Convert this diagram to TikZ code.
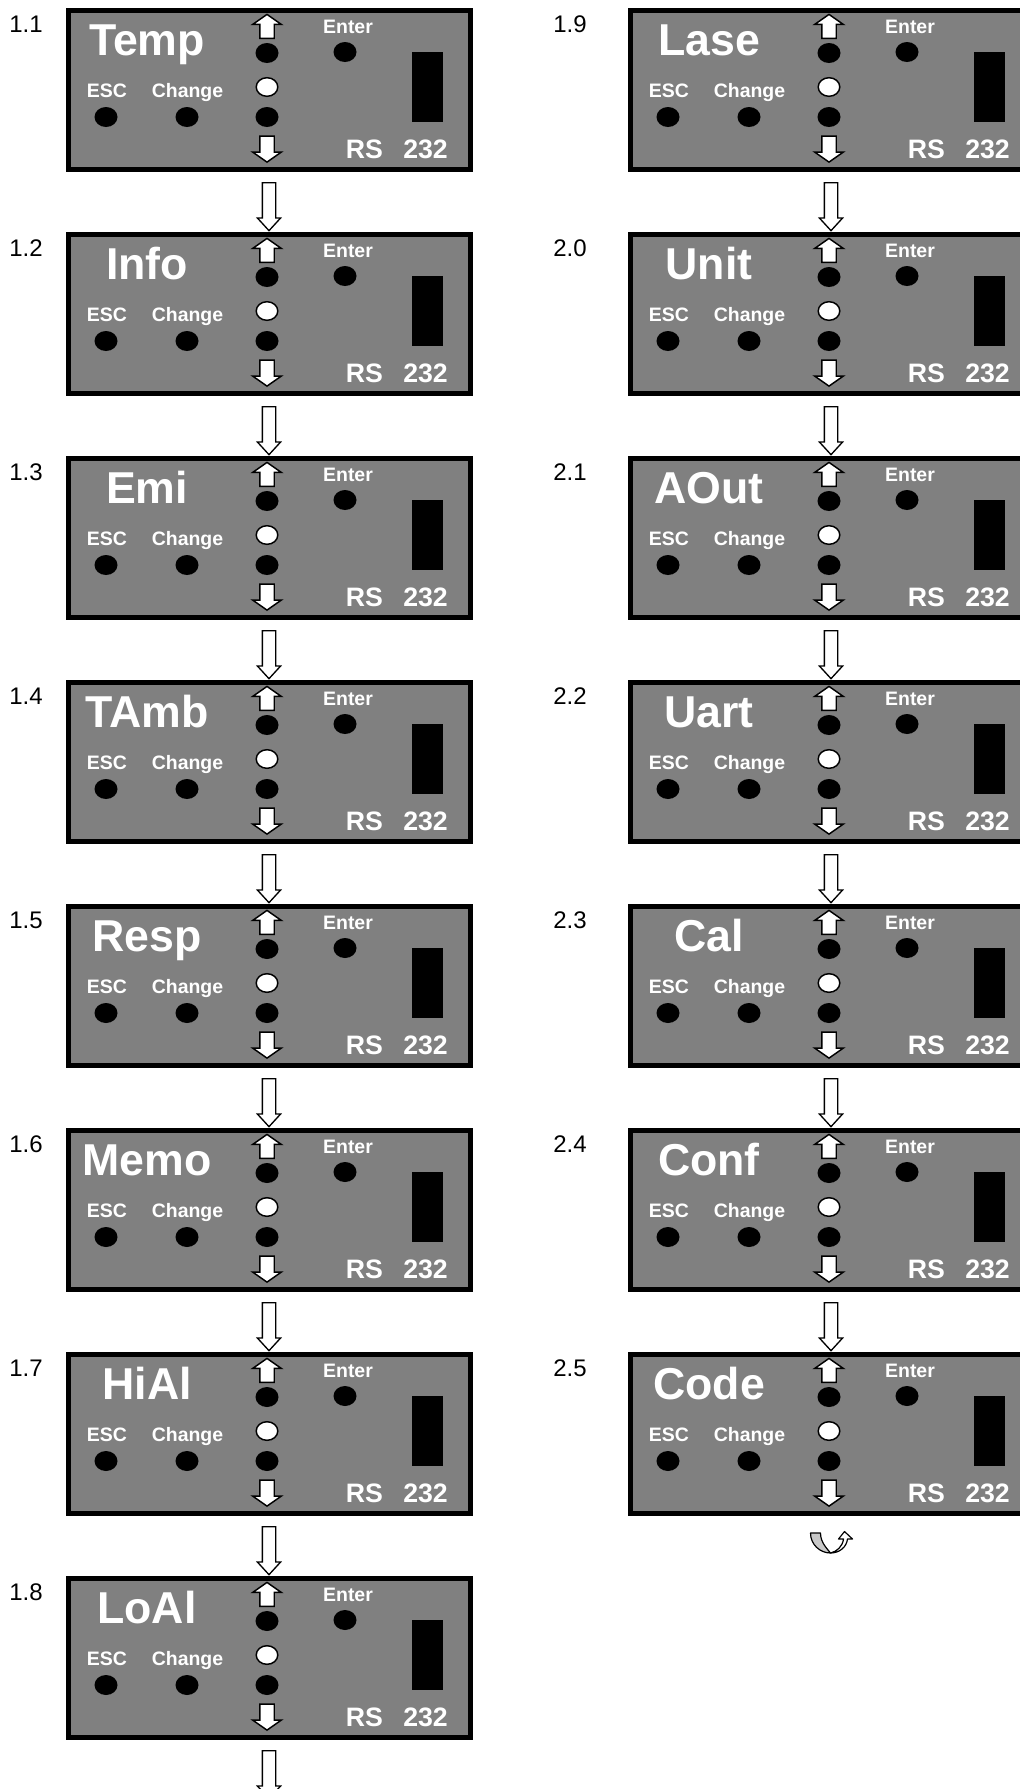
\documentclass[tikz,border=0pt]{standalone}
\usepackage{fontspec}
\setmainfont{Liberation Sans}
\usepackage{xcolor}
\usepackage{tikz}
\usetikzlibrary{shapes.arrows, calc, positioning}
\definecolor{panelgray}{HTML}{808080}
\definecolor{bandgray}{HTML}{C8C8C8}

\begin{document}
\begin{tikzpicture}[
    x=0.75pt, y=-0.75pt,
    panelbox/.style={rectangle, draw=black, fill=panelgray, line width=3.75pt, anchor=north west,
                     minimum width=301.5pt, minimum height=119.25pt, inner sep=0pt},
    bigtext/.style={text=white, font=\fontsize{33.5}{33.5}\selectfont\bfseries, anchor=base, inner sep=0pt},
    keytext/.style={text=white, font=\fontsize{14.6}{15}\selectfont\bfseries, anchor=base, inner sep=0pt},
    porttext/.style={text=white, font=\fontsize{20}{20}\selectfont\bfseries, anchor=base, inner sep=0pt},
    numlabel/.style={font=\fontsize{18}{18}\selectfont, anchor=base west, inner sep=0pt},
    keyarrow/.style={single arrow, draw=black, fill=white, line width=1.1pt, minimum width=20.25pt,
                     single arrow head extend=5.25pt, single arrow tip angle=110,
                     inner xsep=0pt, inner ysep=4.875pt, anchor=tip},
    flowarrow/.style={single arrow, draw=black, fill=white, line width=1pt, rotate=-90, anchor=tail,
                      minimum height=36pt, minimum width=16.5pt, single arrow head extend=3.75pt,
                      single arrow tip angle=85, inner xsep=0pt, inner ysep=4.5pt},
    pics/panel/.style={code={
        \node[panelbox] (-box) at (2.5,2.5) {};
        \node[bigtext] (-name) at (84,50) {#1};
        % scroll keys with their LEDs
        \node[keyarrow, rotate=90, minimum height=18pt] (-up) at (204,8.5) {};
        \fill (204,48) ellipse [x radius=11.5, y radius=10];
        \filldraw[fill=white, line width=1.1pt] (204,82) ellipse [x radius=10.8, y radius=9.3];
        \fill (204,112) ellipse [x radius=11.5, y radius=10];
        \node[keyarrow, rotate=-90, minimum height=19.5pt] (-down) at (204,158) {};
        % other keys
        \node[keytext] (-enter) at (285,28) {Enter};
        \fill (282,47) ellipse [x radius=11.5, y radius=10];
        \node[keytext] (-esc) at (44,92) {ESC};
        \node[keytext] (-change) at (124.5,92) {Change};
        \fill (43,112) ellipse [x radius=11.5, y radius=10];
        \fill (124,112) ellipse [x radius=11.5, y radius=10];
        % serial port
        \fill (349,47) rectangle (380,117);
        \node[porttext] (-rs) at (301.5,153) {RS};
        \node[porttext] (-port) at (362.5,153) {232};
    }},
]
\useasboundingbox (0,0) rectangle (1020,1789);

% Left column
\pic (t11) at (63,5) {panel=Temp};
\pic (t12) at (63,229) {panel=Info};
\pic (t13) at (63,453) {panel=Emi};
\pic (t14) at (63,677) {panel=TAmb};
\pic (t15) at (63,901) {panel=Resp};
\pic (t16) at (63,1125) {panel=Memo};
\pic (t17) at (63,1349) {panel=HiAl};
\pic (t18) at (63,1573) {panel=LoAl};

\node[numlabel] (n11) at (9,32) {1.1};
\node[numlabel] (n12) at (9,256) {1.2};
\node[numlabel] (n13) at (9,480) {1.3};
\node[numlabel] (n14) at (9,704) {1.4};
\node[numlabel] (n15) at (9,928) {1.5};
\node[numlabel] (n16) at (9,1152) {1.6};
\node[numlabel] (n17) at (9,1376) {1.7};
\node[numlabel] (n18) at (9,1600) {1.8};

\node[flowarrow] (f11) at ($(t11-box.south)+(0,10.5)$) {};
\node[flowarrow] (f12) at ($(t12-box.south)+(0,10.5)$) {};
\node[flowarrow] (f13) at ($(t13-box.south)+(0,10.5)$) {};
\node[flowarrow] (f14) at ($(t14-box.south)+(0,10.5)$) {};
\node[flowarrow] (f15) at ($(t15-box.south)+(0,10.5)$) {};
\node[flowarrow] (f16) at ($(t16-box.south)+(0,10.5)$) {};
\node[flowarrow] (f17) at ($(t17-box.south)+(0,10.5)$) {};
\node[flowarrow] (f18) at ($(t18-box.south)+(0,10.5)$) {};

% Right column
\pic (t19) at (625,5) {panel=Lase};
\pic (t20) at (625,229) {panel=Unit};
\pic (t21) at (625,453) {panel=AOut};
\pic (t22) at (625,677) {panel=Uart};
\pic (t23) at (625,901) {panel=Cal};
\pic (t24) at (625,1125) {panel=Conf};
\pic (t25) at (625,1349) {panel=Code};

\node[numlabel] (n19) at (553,32) {1.9};
\node[numlabel] (n20) at (553,256) {2.0};
\node[numlabel] (n21) at (553,480) {2.1};
\node[numlabel] (n22) at (553,704) {2.2};
\node[numlabel] (n23) at (553,928) {2.3};
\node[numlabel] (n24) at (553,1152) {2.4};
\node[numlabel] (n25) at (553,1376) {2.5};

\node[flowarrow] (f19) at ($(t19-box.south)+(0,10.5)$) {};
\node[flowarrow] (f20) at ($(t20-box.south)+(0,10.5)$) {};
\node[flowarrow] (f21) at ($(t21-box.south)+(0,10.5)$) {};
\node[flowarrow] (f22) at ($(t22-box.south)+(0,10.5)$) {};
\node[flowarrow] (f23) at ($(t23-box.south)+(0,10.5)$) {};
\node[flowarrow] (f24) at ($(t24-box.south)+(0,10.5)$) {};

% back to the top of the list
\begin{scope}[shift={(t25-box.south)}]
  \filldraw[fill=bandgray, line width=0.9pt, line join=round]
    (-20.5,17.5) .. controls (-20.5,29) and (-11,37.5) .. (-0.5,37.5)
    .. controls (-4,33) and (-10.5,27) .. (-10.5,17.5) -- cycle;
  \filldraw[fill=white, line width=0.9pt, line join=round]
    (-0.5,37.5) .. controls (6,36) and (11.5,31) .. (12.5,23.5)
    -- (7.5,23.5) -- (13.5,16) -- (21.5,23.5) -- (16.5,23.5)
    .. controls (15.5,32) and (8,37.5) .. (-0.5,37.5) -- cycle;
\end{scope}

\end{tikzpicture}
\end{document}
